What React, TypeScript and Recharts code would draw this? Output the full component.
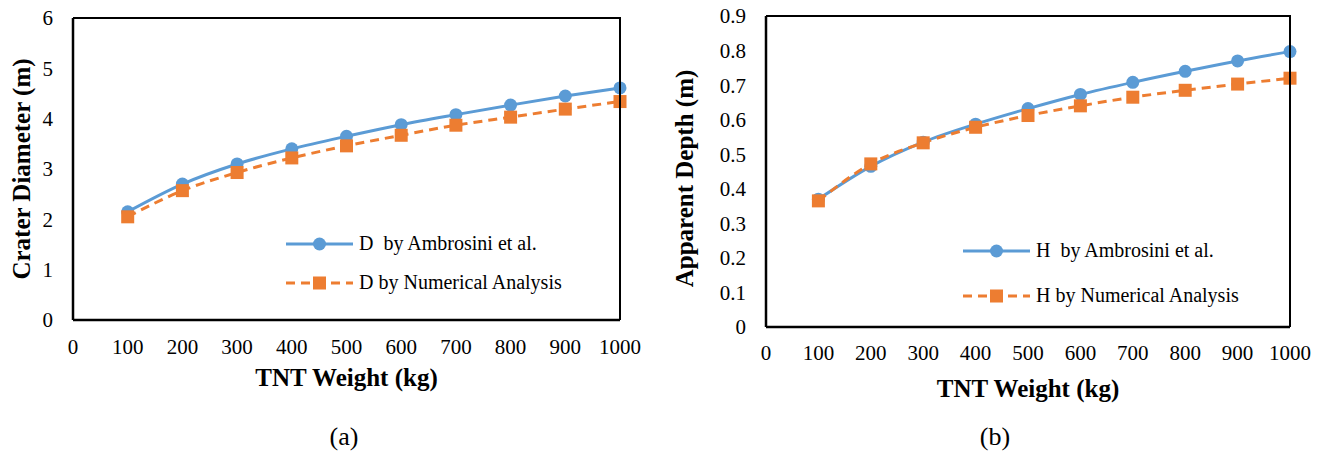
import React from 'react';
import { LineChart, Line, XAxis, YAxis, Legend, Label } from 'recharts';

// TNT weights (kg)
const weights = [100, 200, 300, 400, 500, 600, 700, 800, 900, 1000];

// crater diameter (m)
const diameterAmbrosini = [2.15, 2.7, 3.1, 3.4, 3.65, 3.88, 4.08, 4.27, 4.45, 4.61];
const diameterNumerical = [2.05, 2.57, 2.93, 3.22, 3.46, 3.67, 3.87, 4.03, 4.19, 4.34];

// apparent depth (m)
const depthAmbrosini = [0.37, 0.465, 0.535, 0.587, 0.632, 0.673, 0.708, 0.74, 0.77, 0.797];
const depthNumerical = [0.365, 0.472, 0.533, 0.578, 0.612, 0.64, 0.665, 0.685, 0.703, 0.72];

const xTicks = [0, 100, 200, 300, 400, 500, 600, 700, 800, 900, 1000];
const diameterTicks = [0, 1, 2, 3, 4, 5, 6];
const depthTicks = [0, 0.1, 0.2, 0.3, 0.4, 0.5, 0.6, 0.7, 0.8, 0.9];

const BLUE = '#5B9BD5';
const ORANGE = '#ED7D31';
const FONT = 'Liberation Serif, Times New Roman, Times, Nimbus Roman, DejaVu Serif, serif';
const HEIGHT = 458;

const Square = (props: any) => {
  const { cx, cy } = props;
  if (cx == null || cy == null) return null;
  return <rect x={cx - 6.5} y={cy - 6.5} width={13} height={13} fill={ORANGE} />;
};

const LegendIcon = ({ dashed }: { dashed: boolean }) => (
  <svg width={67} height={16}>
    {dashed ? (
      <>
        <line x1={0} y1={8} x2={67} y2={8} stroke={ORANGE} strokeWidth={3} strokeDasharray="9 6" />
        <rect x={27} y={1.5} width={13} height={13} fill={ORANGE} />
      </>
    ) : (
      <>
        <line x1={0} y1={8} x2={67} y2={8} stroke={BLUE} strokeWidth={3} />
        <circle cx={33.5} cy={8} r={6.5} fill={BLUE} />
      </>
    )}
  </svg>
);

interface PanelProps {
  width: number;
  left: number;
  margin: { top: number; right: number; bottom: number; left: number };
  yWidth: number;
  xHeight: number;
  yDomain: [number, number];
  yTicks: number[];
  ambrosini: number[];
  numerical: number[];
  prefix: string;
  yTitle: string;
  titleDx: number;
  titleDy: number;
  tickMarginX: number;
  legendLeft: number;
  legendTop: number;
  legendRow: number;
  caption: string;
  captionX: number;
}

const Panel = (p: PanelProps) => {
  const rows = weights.map((w, i) => ({ w, a: p.ambrosini[i], n: p.numerical[i] }));
  const names = [`${p.prefix}  by Ambrosini et al.`, `${p.prefix} by Numerical Analysis`];
  const tickStyle = { fill: '#000', fontSize: 21, fontFamily: FONT };

  // plot area box, derived from the chart margins (top/right frame edges)
  const plotLeft = p.margin.left + p.yWidth;
  const plotTop = p.margin.top;
  const plotW = p.width - p.margin.right - plotLeft;
  const plotH = HEIGHT - p.margin.bottom - p.xHeight - plotTop;

  return (
    <div style={{ position: 'absolute', left: p.left, top: 0, width: p.width, height: HEIGHT }}>
      <LineChart width={p.width} height={HEIGHT} data={rows} margin={p.margin}>
        <XAxis
          dataKey="w"
          type="number"
          domain={[0, 1000]}
          ticks={xTicks}
          interval={0}
          height={p.xHeight}
          tickLine={false}
          tickSize={0}
          tickMargin={p.tickMarginX}
          axisLine={{ stroke: '#000', strokeWidth: 2.5 }}
          tick={tickStyle}
        >
          <Label
            value="TNT Weight (kg)"
            position="insideBottom"
            offset={0}
            style={{ fill: '#000', fontSize: 25, fontWeight: 'bold', fontFamily: FONT }}
          />
        </XAxis>
        <YAxis
          type="number"
          domain={p.yDomain}
          ticks={p.yTicks}
          interval={0}
          width={p.yWidth}
          tickLine={false}
          tickSize={0}
          tickMargin={20}
          axisLine={{ stroke: '#000', strokeWidth: 2.5 }}
          tickFormatter={(v: number) => String(v)}
          tick={tickStyle}
        >
          <Label
            value={p.yTitle}
            angle={-90}
            position="center"
            dx={p.titleDx}
            dy={p.titleDy}
            style={{ fill: '#000', fontSize: 25, fontWeight: 'bold', fontFamily: FONT, textAnchor: 'middle' }}
          />
        </YAxis>
        <Legend
          layout="vertical"
          align="center"
          verticalAlign="middle"
          wrapperStyle={{ left: p.legendLeft, top: p.legendTop, width: 'auto' }}
          content={() => (
            <div style={{ fontFamily: FONT, fontSize: 20, color: '#000' }}>
              {names.map((n, i) => (
                <div key={n} style={{ display: 'flex', alignItems: 'center', height: p.legendRow, whiteSpace: 'pre' }}>
                  <LegendIcon dashed={i === 1} />
                  <span style={{ marginLeft: 6 }}>{n}</span>
                </div>
              ))}
            </div>
          )}
        />
        <Line
          type="monotone"
          dataKey="a"
          name={names[0]}
          stroke={BLUE}
          strokeWidth={3}
          dot={{ r: 6.5, fill: BLUE, stroke: 'none' }}
          activeDot={false}
          isAnimationActive={false}
        />
        <Line
          type="monotone"
          dataKey="n"
          name={names[1]}
          stroke={ORANGE}
          strokeWidth={3}
          strokeDasharray="9 6"
          dot={<Square />}
          activeDot={false}
          isAnimationActive={false}
        />
      </LineChart>
      {/* top and right edges of the plot-area frame */}
      <svg
        width={plotW + 2}
        height={plotH + 2}
        style={{ position: 'absolute', left: plotLeft, top: plotTop - 1, pointerEvents: 'none', overflow: 'visible' }}
      >
        <polyline
          points={`0,1 ${plotW},1 ${plotW},${plotH + 1}`}
          fill="none"
          stroke="#000"
          strokeWidth={2}
        />
      </svg>
      <div
        style={{
          position: 'absolute',
          left: p.captionX - 30,
          width: 60,
          top: 422,
          textAlign: 'center',
          fontFamily: FONT,
          fontSize: 26,
          lineHeight: '30px',
          color: '#000',
        }}
      >
        {p.caption}
      </div>
    </div>
  );
};

export default function App() {
  return (
    <div style={{ position: 'absolute', left: 0, top: 0, width: 1332, height: HEIGHT, background: '#fff' }}>
      <Panel
        width={660}
        left={0}
        margin={{ top: 18, right: 40, bottom: 72, left: 0 }}
        yWidth={73}
        xHeight={66}
        yDomain={[0, 6]}
        yTicks={diameterTicks}
        ambrosini={diameterAmbrosini}
        numerical={diameterNumerical}
        prefix="D"
        yTitle="Crater Diameter (m)"
        titleDx={-15}
        titleDy={0}
        tickMarginX={19}
        legendLeft={286}
        legendTop={224}
        legendRow={39}
        caption="(a)"
        captionX={344}
      />
      <Panel
        width={672}
        left={660}
        margin={{ top: 16, right: 42, bottom: 61, left: 0 }}
        yWidth={106}
        xHeight={70}
        yDomain={[0, 0.9]}
        yTicks={depthTicks}
        ambrosini={depthAmbrosini}
        numerical={depthNumerical}
        prefix="H"
        yTitle="Apparent Depth (m)"
        titleDx={-29}
        titleDy={7}
        tickMarginX={18}
        legendLeft={303}
        legendTop={228}
        legendRow={45}
        caption="(b)"
        captionX={335}
      />
    </div>
  );
}
